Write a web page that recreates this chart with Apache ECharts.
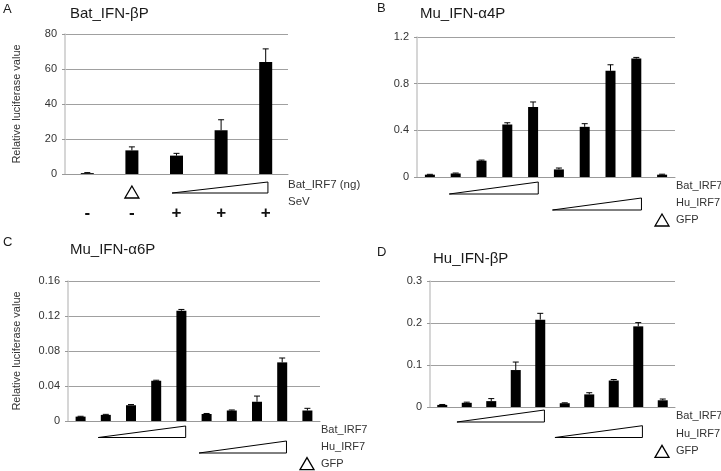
<!DOCTYPE html>
<html><head><meta charset="utf-8">
<script src="https://cdn.jsdelivr.net/npm/echarts@6/dist/echarts.min.js"></script>
<style>html,body{margin:0;padding:0;background:#fff}#c{width:721px;height:471px}</style>
</head><body><div id="c"></div>
<script>
// ---- data ----
const catsA = ['-', '-', '+', '+', '+'];
const valsA = [0.5, 13.5, 10.5, 25, 64];
const errA  = [0.3, 2.0, 1.3, 6.0, 7.5];
const ticksA = [0, 20, 40, 60, 80];

const cats10 = ['1','2','3','4','5','6','7','8','9','10'];
const valsB = [0.02, 0.03, 0.14, 0.45, 0.60, 0.065, 0.43, 0.91, 1.015, 0.02];
const errB  = [0.003, 0.004, 0.005, 0.015, 0.043, 0.012, 0.027, 0.052, 0.01, 0.004];
const ticksB = [0, 0.4, 0.8, 1.2];

const valsC = [0.005, 0.007, 0.018, 0.046, 0.126, 0.008, 0.012, 0.022, 0.067, 0.012];
const errC  = [0.0004, 0.0006, 0.0008, 0.0006, 0.0015, 0.0006, 0.0006, 0.0065, 0.005, 0.0025];
const ticksC = [0, 0.04, 0.08, 0.12, 0.16];

const valsD = [0.005, 0.01, 0.014, 0.088, 0.208, 0.009, 0.03, 0.063, 0.192, 0.016];
const errD  = [0.001, 0.0015, 0.006, 0.019, 0.015, 0.001, 0.004, 0.0025, 0.009, 0.003];
const ticksD = [0, 0.1, 0.2, 0.3];

// wedge spans: [startIndex, endIndex, row]
const wedgesA = [[2, 4, 0]];
const wedges10 = [[1, 4, 0], [5, 8, 1]];
const gfpA = [1];

const titles = ['Bat_IFN-βP', 'Mu_IFN-α4P', 'Mu_IFN-α6P', 'Hu_IFN-βP'];
const letters = ['A', 'B', 'C', 'D'];
const yName = 'Relative luciferase value';

// ---- layout ----
const FONT = '"Liberation Sans", Arial, sans-serif';
const grids = [
  {left: 65, top: 34, width: 223, height: 140},
  {left: 417, top: 37, width: 258, height: 140},
  {left: 68, top: 281, width: 252, height: 140},
  {left: 430, top: 281, width: 245, height: 126}
];
const panels = [
  {cats: catsA, vals: valsA, err: errA, ticks: ticksA, barW: 13, wedges: wedgesA, pad: [0.1, 0.05], rows: [[19, 8]], yname: true, labelMargin: 31},
  {cats: cats10, vals: valsB, err: errB, ticks: ticksB, barW: 10, wedges: wedges10, pad: [0.25, 0.2], rows: [[17, 5], [33, 21]], yname: false},
  {cats: cats10, vals: valsC, err: errC, ticks: ticksC, barW: 10, wedges: wedges10, pad: [0.3, 0.17], rows: [[16.5, 5], [32, 20]], yname: true},
  {cats: cats10, vals: valsD, err: errD, ticks: ticksD, barW: 10, wedges: wedges10, pad: [0.4, 0.17], rows: [[15, 3], [30.5, 18.7]], yname: false}
];

const chart = echarts.init(document.getElementById('c'), null, {renderer: 'canvas'});
const grid = [], xAxis = [], yAxis = [], series = [], graphic = [];

function tri(cx, cy) {
  return {type: 'polygon', shape: {points: [[cx, cy - 6], [cx + 7, cy + 6], [cx - 7, cy + 6]]},
    style: {fill: '#fff', stroke: '#000', lineWidth: 1.3}};
}
function txt(x, y, t, size, color) {
  return {type: 'text', x: x, y: y, style: {text: t, font: size + 'px ' + FONT, fill: color || '#333',
    textVerticalAlign: 'middle', verticalAlign: 'middle'}};
}

panels.forEach((p, i) => {
  const g = grids[i];
  grid.push(Object.assign({containLabel: false}, g));
  const t = p.ticks;
  xAxis.push({type: 'category', gridIndex: i, data: p.cats,
    axisLine: {lineStyle: {color: '#999', width: 1}}, axisTick: {show: false},
    axisLabel: i === 0 ? {show: true, margin: p.labelMargin, fontSize: 17, fontWeight: 'bold', color: '#111', fontFamily: FONT} : {show: false}});
  yAxis.push({type: 'value', gridIndex: i, min: t[0], max: t[t.length - 1], interval: t[1] - t[0],
    name: p.yname ? yName : '', nameLocation: 'middle', nameGap: i === 0 ? 43 : 46, nameRotate: 90,
    nameTextStyle: {fontSize: 11, color: '#333', fontFamily: FONT},
    axisLine: {show: true, lineStyle: {color: '#c8c8c8', width: 1.5}},
    axisTick: {show: true, length: 3, lineStyle: {color: '#999'}},
    axisLabel: {fontSize: 11, color: '#333', fontFamily: FONT, margin: 8,
      formatter: v => { const m = t.find(x => Math.abs(x - v) < 1e-9); return m === undefined ? '' : String(m); }},
    splitLine: {show: true, lineStyle: {color: '#a0a0a0', width: 1}}});
  series.push({type: 'bar', xAxisIndex: i, yAxisIndex: i, data: p.vals, barWidth: p.barW,
    itemStyle: {color: '#000'}, silent: true, animation: false});
  series.push({type: 'custom', xAxisIndex: i, yAxisIndex: i, animation: false, silent: true, z: 5,
    data: p.vals.map((v, k) => [k, v, v + p.err[k]]),
    renderItem: (params, api) => {
      const a = api.coord([api.value(0), api.value(1)]);
      const b = api.coord([api.value(0), api.value(2)]);
      const s = {stroke: '#000', lineWidth: 1};
      return {type: 'group', children: [
        {type: 'line', shape: {x1: a[0], y1: a[1], x2: b[0], y2: b[1]}, style: s},
        {type: 'line', shape: {x1: b[0] - 3, y1: b[1], x2: b[0] + 3, y2: b[1]}, style: s}]};
    }});
  series.push({type: 'custom', xAxisIndex: i, yAxisIndex: i, animation: false, silent: true, clip: false,
    data: p.wedges,
    renderItem: (params, api) => {
      const cw = api.size([1, 0])[0];
      const s0 = api.coord([api.value(0), 0]);
      const s1 = api.coord([api.value(1), 0]);
      const r = p.rows[api.value(2)];
      const x0 = s0[0] - p.pad[0] * cw, x1 = s1[0] + p.pad[1] * cw;
      return {type: 'polygon', shape: {points: [[x0, s0[1] + r[0]], [x1, s0[1] + r[0]], [x1, s0[1] + r[1]]]},
        style: {fill: '#fff', stroke: '#000', lineWidth: 1}};
    }});
  if (i === 0) {
    series.push({type: 'custom', xAxisIndex: 0, yAxisIndex: 0, animation: false, silent: true, clip: false,
      data: gfpA.map(k => [k, 0]),
      renderItem: (params, api) => {
        const c = api.coord([api.value(0), 0]);
        return tri(c[0], c[1] + 18);
      }});
  }
});

// titles & letters
const titlePos = [[70, 14], [420, 14], [70, 250], [433, 259]];
const letterPos = [[3, 9], [377, 8], [3, 242], [377, 252]];
titles.forEach((t, i) => graphic.push(txt(titlePos[i][0], titlePos[i][1], t, 15, '#1a1a1a')));
letters.forEach((t, i) => graphic.push(txt(letterPos[i][0], letterPos[i][1], t, 13, '#1a1a1a')));

// right-side row labels
const gA = grids[0];
graphic.push(txt(gA.left + gA.width, gA.top + gA.height + 11, 'Bat_IRF7 (ng)', 11.5));
graphic.push(txt(gA.left + gA.width, gA.top + gA.height + 28, 'SeV', 11.5));
const rowLab = [[9.2, 26, 43], [9.3, 26.3, 42.6], [9.4, 26.7, 44.4]];
[1, 2, 3].forEach((i, j) => {
  const g = grids[i];
  const x = g.left + g.width + 1, y0 = g.top + g.height;
  graphic.push(txt(x, y0 + rowLab[j][0], 'Bat_IRF7', 11));
  graphic.push(txt(x, y0 + rowLab[j][1], 'Hu_IRF7', 11));
  graphic.push(tri(x - 14, y0 + rowLab[j][2]));
  graphic.push(txt(x, y0 + rowLab[j][2], 'GFP', 11));
});

chart.setOption({animation: false, grid, xAxis, yAxis, series, graphic});
</script></body></html>
